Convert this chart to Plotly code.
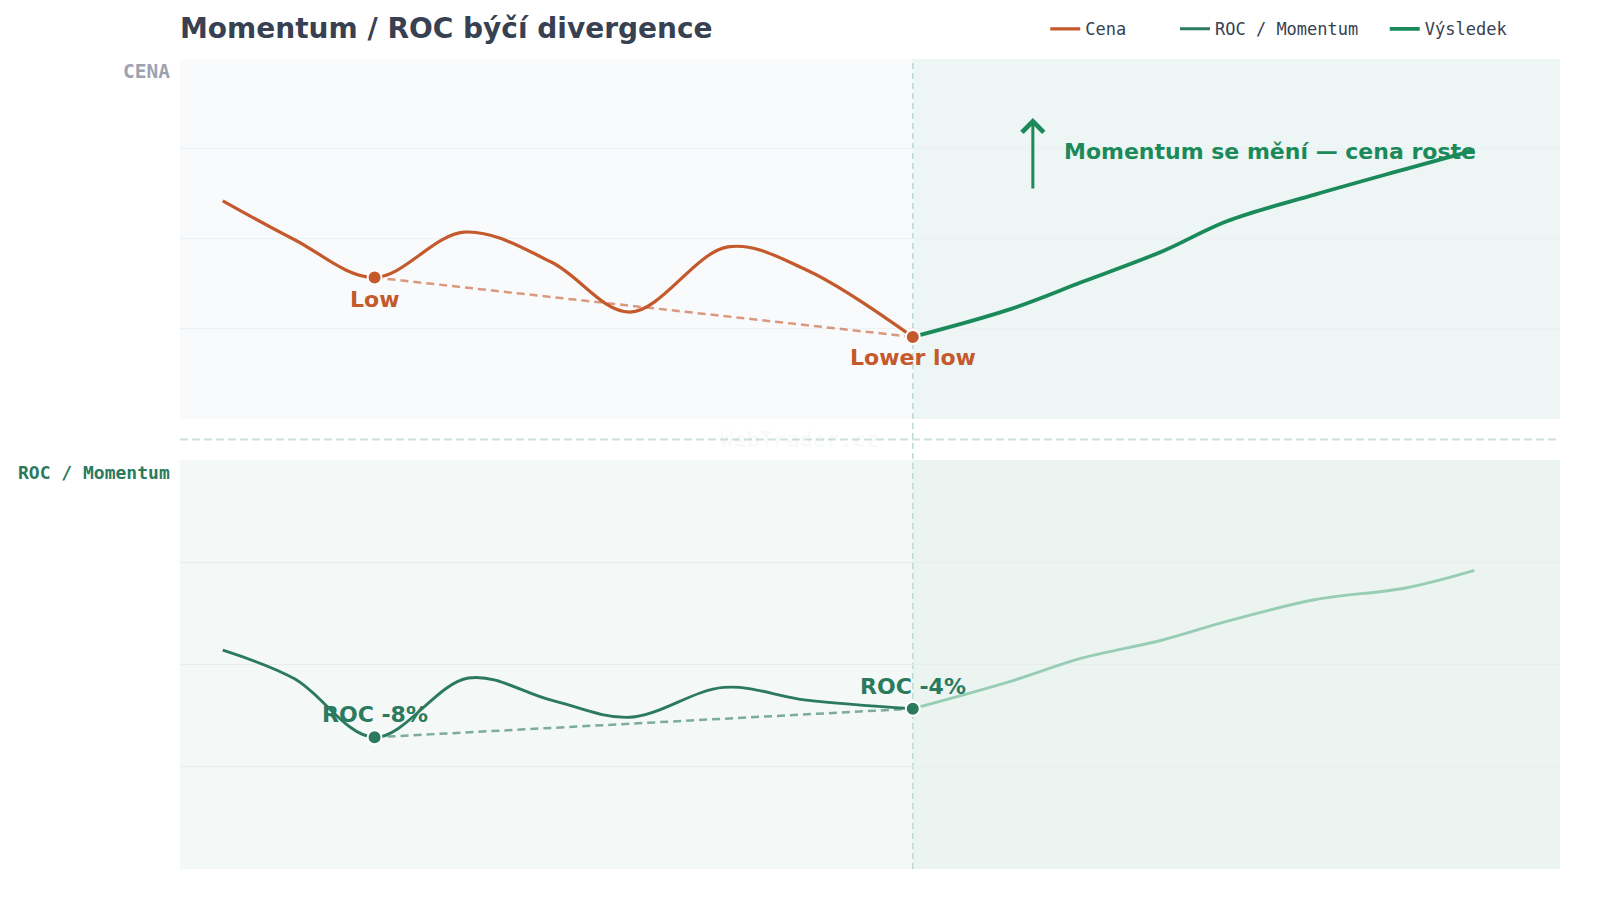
import plotly.graph_objects as go

# ---------------- data ----------------
X_PRICE = [3.1, 8.3, 14.1, 20.6, 26.9, 32.6, 39.7, 45.4, 53.1]
PRICE_BEFORE = [60.6, 49.8, 39.3, 51.9, 43.6, 29.7, 47.8, 41.4, 22.8]
X_ROC = [3.1, 8.3, 14.1, 20.9, 26.9, 32.6, 39.4, 45.4, 53.1]
ROC_BEFORE = [53.5, 46.5, 32.2, 46.7, 41.3, 37.1, 44.4, 41.3, 39.2]

X_AFTER = [53.1, 60.0, 65.4, 71.2, 75.9, 82.3, 88.8, 93.8]
PRICE_AFTER = [22.8, 30.3, 38.1, 46.6, 55.0, 62.4, 69.4, 74.7]
ROC_AFTER = [39.2, 45.7, 51.6, 56.0, 60.6, 65.9, 68.7, 73.0]

LOW_IDX = 2
DIV_IDX = 8
X_RANGE = [0, 100]
Y_RANGE = [0, 100]
GRID_TICK = 25

ARROW_X = 61.8
ARROW_Y = [63.6, 83.6]
NOTE_X = 63.9
NOTE_Y = 74.2

TITLE = "Momentum / ROC býčí divergence"
NOTE = "Momentum se mění — cena roste"
LABELS_PRICE = ["Low", "Lower low"]
LABELS_ROC = ["ROC -8%", "ROC -4%"]
LEGEND_NAMES = ["Cena", "ROC / Momentum", "Výsledek"]
LEGEND_X = [0.627, 0.721, 0.873]

# ---------------- style ----------------
ORANGE = "#c4592b"
ORANGE_DASH = "rgba(196,89,43,0.6)"
DGREEN = "#2b7a5e"
DGREEN_DASH = "rgba(43,122,94,0.6)"
RGREEN = "#1b8a5a"
LGREEN = "#98cdb5"
SANS = "DejaVu Sans"
MONO = "DejaVu Sans Mono"

TOP_DOM = [0.5556, 1.0]
BOT_DOM = [0.0, 0.5049]
W, H = 1584, 884
M_T = 51

fig = go.Figure()

fig.add_trace(go.Scatter(x=X_PRICE, y=PRICE_BEFORE, mode="lines", name=LEGEND_NAMES[0], legend="legend",
                         line=dict(color=ORANGE, width=3.2, shape="spline", smoothing=1),
                         xaxis="x", yaxis="y", hoverinfo="skip"))
fig.add_trace(go.Scatter(x=X_ROC, y=ROC_BEFORE, mode="lines", name=LEGEND_NAMES[1], legend="legend2",
                         line=dict(color=DGREEN, width=2.9, shape="spline", smoothing=1),
                         xaxis="x2", yaxis="y2", hoverinfo="skip"))
fig.add_trace(go.Scatter(x=X_AFTER, y=PRICE_AFTER, mode="lines", name=LEGEND_NAMES[2], legend="legend3",
                         line=dict(color=RGREEN, width=3.8, shape="spline", smoothing=1),
                         xaxis="x", yaxis="y", hoverinfo="skip"))
fig.add_trace(go.Scatter(x=X_AFTER, y=ROC_AFTER, mode="lines", showlegend=False,
                         line=dict(color=LGREEN, width=2.9, shape="spline", smoothing=1),
                         xaxis="x2", yaxis="y2", hoverinfo="skip"))

px_pts = [X_PRICE[LOW_IDX], X_PRICE[DIV_IDX]]
rx_pts = [X_ROC[LOW_IDX], X_ROC[DIV_IDX]]
fig.add_trace(go.Scatter(x=px_pts, y=[PRICE_BEFORE[LOW_IDX], PRICE_BEFORE[DIV_IDX]], mode="lines",
                         showlegend=False, line=dict(color=ORANGE_DASH, width=2.5, dash="8px,5px"),
                         xaxis="x", yaxis="y", hoverinfo="skip"))
fig.add_trace(go.Scatter(x=rx_pts, y=[ROC_BEFORE[LOW_IDX], ROC_BEFORE[DIV_IDX]], mode="lines",
                         showlegend=False, line=dict(color=DGREEN_DASH, width=2.5, dash="8px,5px"),
                         xaxis="x2", yaxis="y2", hoverinfo="skip"))
fig.add_trace(go.Scatter(x=px_pts, y=[PRICE_BEFORE[LOW_IDX], PRICE_BEFORE[DIV_IDX]], mode="markers",
                         showlegend=False, marker=dict(color=ORANGE, size=14, line=dict(color="white", width=2)),
                         xaxis="x", yaxis="y", hoverinfo="skip"))
fig.add_trace(go.Scatter(x=rx_pts, y=[ROC_BEFORE[LOW_IDX], ROC_BEFORE[DIV_IDX]], mode="markers",
                         showlegend=False, marker=dict(color=DGREEN, size=14, line=dict(color="white", width=2)),
                         xaxis="x2", yaxis="y2", hoverinfo="skip"))

mid = (TOP_DOM[0] + BOT_DOM[1]) / 2
shapes = [
    dict(type="rect", xref="paper", yref="paper", x0=0, x1=1, y0=BOT_DOM[0], y1=BOT_DOM[1],
         fillcolor="#f4f8f7", line=dict(width=0), layer="below"),
    dict(type="rect", xref="x", yref="paper", x0=X_PRICE[DIV_IDX], x1=X_RANGE[1], y0=TOP_DOM[0], y1=TOP_DOM[1],
         fillcolor="rgba(27,138,90,0.045)", line=dict(width=0), layer="below"),
    dict(type="rect", xref="x", yref="paper", x0=X_ROC[DIV_IDX], x1=X_RANGE[1], y0=BOT_DOM[0], y1=BOT_DOM[1],
         fillcolor="rgba(27,138,90,0.035)", line=dict(width=0), layer="below"),
    dict(type="line", xref="x", yref="paper", x0=X_PRICE[DIV_IDX], x1=X_PRICE[DIV_IDX], y0=0, y1=1,
         line=dict(color="#bcdcd0", width=1.5, dash="6px,4px"), layer="below"),
    dict(type="line", xref="paper", yref="paper", x0=0, x1=1, y0=mid, y1=mid,
         line=dict(color="#cfe2db", width=2, dash="8px,4px"), layer="below"),
]

annotations = [
    dict(text=f"<b>{LABELS_PRICE[0]}</b>", x=X_PRICE[LOW_IDX], y=PRICE_BEFORE[LOW_IDX], xref="x", yref="y",
         yshift=-21.5, showarrow=False, font=dict(family=SANS, size=22, color=ORANGE)),
    dict(text=f"<b>{LABELS_PRICE[1]}</b>", x=X_PRICE[DIV_IDX], y=PRICE_BEFORE[DIV_IDX], xref="x", yref="y",
         yshift=-21, showarrow=False, font=dict(family=SANS, size=22, color=ORANGE)),
    dict(text=f"<b>{LABELS_ROC[0]}</b>", x=X_ROC[LOW_IDX], y=ROC_BEFORE[LOW_IDX], xref="x2", yref="y2",
         yshift=22.5, showarrow=False, font=dict(family=SANS, size=22, color=DGREEN)),
    dict(text=f"<b>{LABELS_ROC[1]}</b>", x=X_ROC[DIV_IDX], y=ROC_BEFORE[DIV_IDX], xref="x2", yref="y2",
         yshift=22.5, showarrow=False, font=dict(family=SANS, size=22, color=DGREEN)),
    dict(text="", x=ARROW_X, y=ARROW_Y[1], ax=ARROW_X, ay=ARROW_Y[0], xref="x", yref="y",
         axref="x", ayref="y", showarrow=True, arrowhead=4, arrowsize=1.4, arrowwidth=3,
         arrowcolor=RGREEN),
    dict(text=f"<b>{NOTE}</b>", x=NOTE_X, y=NOTE_Y, xref="x", yref="y", xanchor="left", yanchor="middle",
         showarrow=False, font=dict(family=SANS, size=22, color=RGREEN)),
    dict(text="<b>CENA</b>", x=0, y=1, xref="paper", yref="y domain", xanchor="right", yanchor="middle",
         xshift=-8, yshift=-12, showarrow=False, font=dict(family=MONO, size=19.5, color="#9ca3af")),
    dict(text="<b>ROC / Momentum</b>", x=0, y=1, xref="paper", yref="y2 domain", xanchor="right",
         yanchor="middle", xshift=-8, yshift=-12, showarrow=False,
         font=dict(family=MONO, size=18, color=DGREEN)),
    dict(text="<b>WebTrader.cz</b>", x=0.449, y=mid, xref="paper", yref="paper",
         showarrow=False, font=dict(family=MONO, size=22, color="rgba(55,65,81,0.045)")),
]

legend_common = dict(orientation="h", xanchor="left", y=1.0367, yanchor="middle",
                     font=dict(family=MONO, size=17, color="#374151"), bgcolor="rgba(0,0,0,0)",
                     itemwidth=30)

axis_common = dict(showticklabels=False, zeroline=False, showline=False, ticks="")
fig.update_layout(
    width=W, height=H,
    margin=dict(l=172, r=32, t=M_T, b=23, autoexpand=False),
    paper_bgcolor="white", plot_bgcolor="#f8fafc",
    title=dict(text=f"<b>{TITLE}</b>", x=0, xref="paper", xanchor="left", y=1 - 20.6 / H, yref="container",
               yanchor="middle", font=dict(family=SANS, size=28, color="#374151")),
    xaxis=dict(domain=[0, 1], range=X_RANGE, anchor="y", showgrid=False, **axis_common),
    xaxis2=dict(domain=[0, 1], range=X_RANGE, anchor="y2", showgrid=False, **axis_common),
    yaxis=dict(domain=TOP_DOM, range=Y_RANGE, dtick=GRID_TICK, tick0=0, showgrid=True,
               gridcolor="#edf0f2", gridwidth=1, **axis_common),
    yaxis2=dict(domain=BOT_DOM, range=Y_RANGE, dtick=GRID_TICK, tick0=0, showgrid=True,
                gridcolor="#e6eeeb", gridwidth=1, **axis_common),
    legend=dict(x=LEGEND_X[0], **legend_common),
    legend2=dict(x=LEGEND_X[1], **legend_common),
    legend3=dict(x=LEGEND_X[2], **legend_common),
    shapes=shapes, annotations=annotations,
    showlegend=True,
)

fig.write_html("out.html")
